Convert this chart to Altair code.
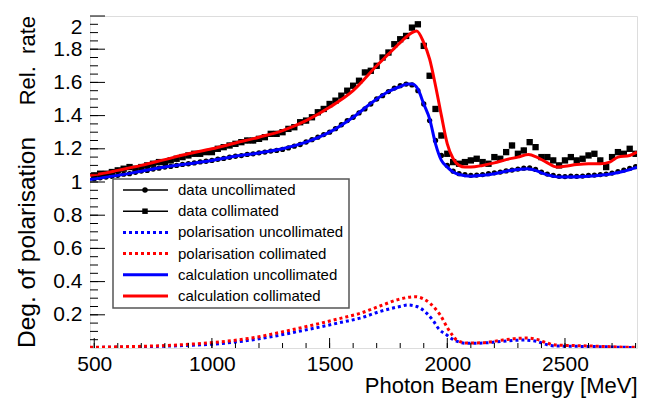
import altair as alt
import pandas as pd

FONT = "Liberation Sans"
W, H = 547, 332

# ---------------- data ----------------
E_data = list(range(500, 2801, 25))
rate_uncoll = [1.02, 1.025, 1.03, 1.034, 1.04, 1.047, 1.05, 1.058, 1.066, 1.07,
               1.078, 1.083, 1.09, 1.094, 1.10, 1.106, 1.11, 1.115, 1.121, 1.125,
               1.13, 1.137, 1.142, 1.149, 1.155, 1.159, 1.166, 1.17, 1.176, 1.18,
               1.186, 1.19, 1.196, 1.205, 1.216, 1.226, 1.241, 1.255, 1.27, 1.286,
               1.30, 1.321, 1.345, 1.37, 1.39, 1.416, 1.44, 1.47, 1.50, 1.52,
               1.545, 1.566, 1.58, 1.59, 1.585, 1.55, 1.47, 1.37, 1.25, 1.16,
               1.10, 1.065, 1.05, 1.045, 1.04, 1.042, 1.045, 1.05, 1.055, 1.06,
               1.067, 1.072, 1.078, 1.083, 1.085, 1.076, 1.06, 1.048, 1.04, 1.034,
               1.033, 1.035, 1.034, 1.036, 1.04, 1.042, 1.045, 1.048, 1.054, 1.063,
               1.072, 1.082, 1.092]
rate_coll = [1.04, 1.05, 1.05, 1.06, 1.07, 1.08, 1.09, 1.08, 1.09, 1.10,
             1.11, 1.12, 1.12, 1.13, 1.14, 1.15, 1.16, 1.17, 1.17, 1.18,
             1.18, 1.20, 1.21, 1.22, 1.23, 1.24, 1.25, 1.25, 1.26, 1.27,
             1.29, 1.29, 1.30, 1.32, 1.33, 1.36, 1.37, 1.39, 1.42, 1.44,
             1.47, 1.49, 1.52, 1.55, 1.58, 1.61, 1.66, 1.67, 1.70, 1.75,
             1.78, 1.83, 1.86, 1.88, 1.93, 1.95, 1.82, 1.64, 1.44, 1.28,
             1.17, 1.12, 1.11, 1.12, 1.13, 1.14, 1.12, 1.11, 1.15, 1.14,
             1.18, 1.22, 1.17, 1.19, 1.24, 1.21, 1.15, 1.15, 1.13, 1.10,
             1.13, 1.15, 1.13, 1.14, 1.16, 1.17, 1.13, 1.09, 1.15, 1.18,
             1.17, 1.20, 1.17]
err_uncoll = 0.009
err_coll = 0.016

E_calc_coll = [482, 550, 600, 700, 800, 900, 1000, 1100, 1200, 1300, 1400, 1500, 1600, 1700, 1750,
               1800, 1850, 1870, 1900, 1925, 1950, 1975, 2000, 2025, 2050, 2075, 2100, 2150, 2200, 2250,
               2300, 2345, 2380, 2420, 2467, 2500, 2550, 2600, 2650, 2690, 2725, 2775, 2806]
calc_coll = [1.04, 1.055, 1.07, 1.10, 1.135, 1.17, 1.20, 1.235, 1.27, 1.31, 1.37, 1.45, 1.55, 1.70, 1.77,
             1.84, 1.90, 1.91, 1.84, 1.74, 1.58, 1.40, 1.23, 1.14, 1.10, 1.09, 1.09, 1.10, 1.115, 1.135,
             1.15, 1.165, 1.15, 1.12, 1.09, 1.095, 1.105, 1.11, 1.11, 1.12, 1.15, 1.16, 1.18]

E_calc_uncoll = [482, 600, 700, 800, 900, 1000, 1100, 1200, 1300, 1400, 1500, 1600, 1700, 1750, 1800,
                 1830, 1850, 1875, 1900, 1925, 1950, 1975, 2000, 2025, 2050, 2100, 2150, 2200, 2250, 2300,
                 2340, 2375, 2400, 2450, 2475, 2500, 2600, 2700, 2750, 2806]
calc_uncoll = [1.015, 1.04, 1.065, 1.09, 1.11, 1.13, 1.155, 1.175, 1.20, 1.24, 1.30, 1.39, 1.50, 1.545, 1.575,
               1.59, 1.59, 1.56, 1.47, 1.38, 1.23, 1.13, 1.09, 1.06, 1.045, 1.035, 1.04, 1.05, 1.065, 1.075,
               1.08, 1.07, 1.055, 1.035, 1.03, 1.03, 1.035, 1.05, 1.065, 1.09]

E_pol_coll = [482, 600, 750, 900, 1013, 1100, 1200, 1268, 1350, 1464, 1550, 1630, 1714, 1799, 1863,
              1900, 1927, 1950, 1970, 1998, 2020, 2040, 2084, 2150, 2236, 2300, 2339, 2380, 2424, 2460,
              2550, 2650, 2750, 2800]
pol_coll = [0.004, 0.007, 0.012, 0.022, 0.034, 0.047, 0.068, 0.088, 0.113, 0.15, 0.18, 0.209, 0.253, 0.295, 0.309,
            0.295, 0.269, 0.235, 0.199, 0.128, 0.08, 0.048, 0.03, 0.032, 0.048, 0.058, 0.06, 0.052, 0.03, 0.018,
            0.014, 0.01, 0.005, 0.004]

E_pol_uncoll = [482, 600, 750, 900, 1013, 1100, 1200, 1268, 1350, 1464, 1550, 1630, 1714, 1799, 1833,
                1870, 1913, 1940, 1962, 1998, 2020, 2042, 2084, 2150, 2236, 2323, 2380, 2424, 2460, 2550,
                2650, 2750, 2800]
pol_uncoll = [0.003, 0.005, 0.009, 0.016, 0.024, 0.036, 0.055, 0.072, 0.095, 0.128, 0.155, 0.18, 0.22, 0.25, 0.259,
              0.25, 0.209, 0.165, 0.118, 0.078, 0.055, 0.04, 0.028, 0.03, 0.04, 0.048, 0.04, 0.02, 0.012, 0.01,
              0.008, 0.004, 0.003]

x_ticks_major = [500, 1000, 1500, 2000, 2500]
x_ticks_minor = list(range(500, 2801, 100))
y_ticks_major = [0.2, 0.4, 0.6, 0.8, 1.0, 1.2, 1.4, 1.6, 1.8, 2.0]
y_ticks_minor = [i * 0.05 for i in range(1, 40)]

legend_labels = ["data uncollimated", "data collimated", "polarisation uncollimated",
                 "polarisation collimated", "calculation uncollimated", "calculation collimated"]

# ---------------- scales / axes ----------------
x_scale = alt.Scale(domain=[482, 2806], nice=False, zero=False)
y_scale = alt.Scale(domain=[0, 2], nice=False, zero=False)
x_axis = alt.Axis(values=x_ticks_major, ticks=False, domain=False, grid=False, format="d",
                  labelFont=FONT, labelFontSize=21, labelColor="black", labelPadding=5,
                  title="Photon Beam Energy [MeV]", titleFont=FONT, titleFontSize=22,
                  titleFontWeight="normal", titleColor="black", titleAnchor="end", titlePadding=1)
y_axis = alt.Axis(values=y_ticks_major, ticks=False, domain=False, grid=False, format="~g",
                  labelFont=FONT, labelFontSize=21, labelColor="black", labelPadding=8,
                  labelFlush=True, title=None)


def X(f):
    return alt.X(f, type="quantitative", scale=x_scale, axis=x_axis)


def Y(f):
    return alt.Y(f, type="quantitative", scale=y_scale, axis=y_axis)


df_unc = pd.DataFrame({"E": E_data, "v": rate_uncoll})
df_unc["lo"] = df_unc["v"] - err_uncoll
df_unc["hi"] = df_unc["v"] + err_uncoll
df_col = pd.DataFrame({"E": E_data, "v": rate_coll})
df_col["lo"] = df_col["v"] - err_coll
df_col["hi"] = df_col["v"] + err_coll

layers = []


def line(E, v, color, dash=None):
    kw = dict(color=color, strokeWidth=3, interpolate="monotone", clip=True)
    if dash:
        kw["strokeDash"] = dash
    return alt.Chart(pd.DataFrame({"E": E, "v": v})).mark_line(**kw).encode(x=X("E"), y=Y("v"))


# polarisation
layers.append(line(E_pol_uncoll, pol_uncoll, "#0000ff", [3, 3]))
layers.append(line(E_pol_coll, pol_coll, "#ff0000", [3, 3]))

# data with error bars
for df, shape, size in [(df_unc, "circle", 28), (df_col, "square", 40)]:
    layers.append(alt.Chart(df).mark_rule(color="black", strokeWidth=1.5, clip=True)
                  .encode(x=X("E"), y=Y("lo"), y2=alt.Y2("hi")))
    layers.append(alt.Chart(df).mark_point(shape=shape, filled=True, size=size, color="black",
                                           opacity=1, clip=True)
                  .encode(x=X("E"), y=Y("v")))

# calculations
layers.append(line(E_calc_uncoll, calc_uncoll, "#0000ff"))
layers.append(line(E_calc_coll, calc_coll, "#ff0000"))

# ticks (ROOT style, inside)
layers.append(alt.Chart(pd.DataFrame({"E": x_ticks_minor})).mark_rule(color="black", strokeWidth=1)
              .encode(x=X("E"), y=alt.value(H), y2=alt.value(H - 5)))
layers.append(alt.Chart(pd.DataFrame({"E": x_ticks_major})).mark_rule(color="black", strokeWidth=1)
              .encode(x=X("E"), y=alt.value(H), y2=alt.value(H - 10)))
layers.append(alt.Chart(pd.DataFrame({"v": y_ticks_minor})).mark_rule(color="black", strokeWidth=1)
              .encode(y=Y("v"), x=alt.value(0), x2=alt.value(8)))
layers.append(alt.Chart(pd.DataFrame({"v": y_ticks_major})).mark_rule(color="black", strokeWidth=1)
              .encode(y=Y("v"), x=alt.value(0), x2=alt.value(15)))

# legend
one = pd.DataFrame({"a": [0]})
LX0, LX1, LY0, LY1 = 23, 259, 163, 292
layers.append(alt.Chart(one).mark_rect(fill="white", stroke="#555555", strokeWidth=1.5)
              .encode(x=alt.value(LX0), x2=alt.value(LX1), y=alt.value(LY0), y2=alt.value(LY1)))
styles = [("black", None, "circle"), ("black", None, "square"), ("#0000ff", [3, 3], None),
          ("#ff0000", [3, 3], None), ("#0000ff", None, None), ("#ff0000", None, None)]
for i, (lab, (col, dash, shp)) in enumerate(zip(legend_labels, styles)):
    yy = 174 + 21.2 * i
    kw = dict(color=col, strokeWidth=(1.5 if shp else 3))
    if dash:
        kw["strokeDash"] = dash
    layers.append(alt.Chart(one).mark_rule(**kw)
                  .encode(x=alt.value(33), x2=alt.value(78), y=alt.value(yy)))
    if shp:
        layers.append(alt.Chart(one).mark_point(shape=shp, filled=True, size=30, color="black", opacity=1)
                      .encode(x=alt.value(55), y=alt.value(yy)))
    layers.append(alt.Chart(pd.DataFrame({"t": [lab]})).mark_text(
        align="left", baseline="middle", font=FONT, fontSize=15, color="black")
        .encode(x=alt.value(88), y=alt.value(yy), text="t:N"))

# y titles
layers.append(alt.Chart(pd.DataFrame({"t": ["Rel.\u00a0 rate"], "v": [2.0]})).mark_text(
    angle=270, align="right", baseline="alphabetic", font=FONT, fontSize=22, color="black")
    .encode(x=alt.value(-55), y=Y("v"), text="t:N"))
layers.append(alt.Chart(pd.DataFrame({"t": ["Deg. of polarisation"], "v": [0.0]})).mark_text(
    angle=270, align="left", baseline="alphabetic", font=FONT, fontSize=24.5, color="black")
    .encode(x=alt.value(-55), y=Y("v"), text="t:N"))

chart = alt.layer(*layers).properties(
    width=W, height=H,
    padding={"left": 82, "top": 8, "right": 4, "bottom": 50},
    autosize=alt.AutoSizeParams(type="none"),
).configure_view(stroke="black", strokeWidth=1.2).configure(background="white")

chart.save("out.html", embed_options={"renderer": "svg", "actions": False})
